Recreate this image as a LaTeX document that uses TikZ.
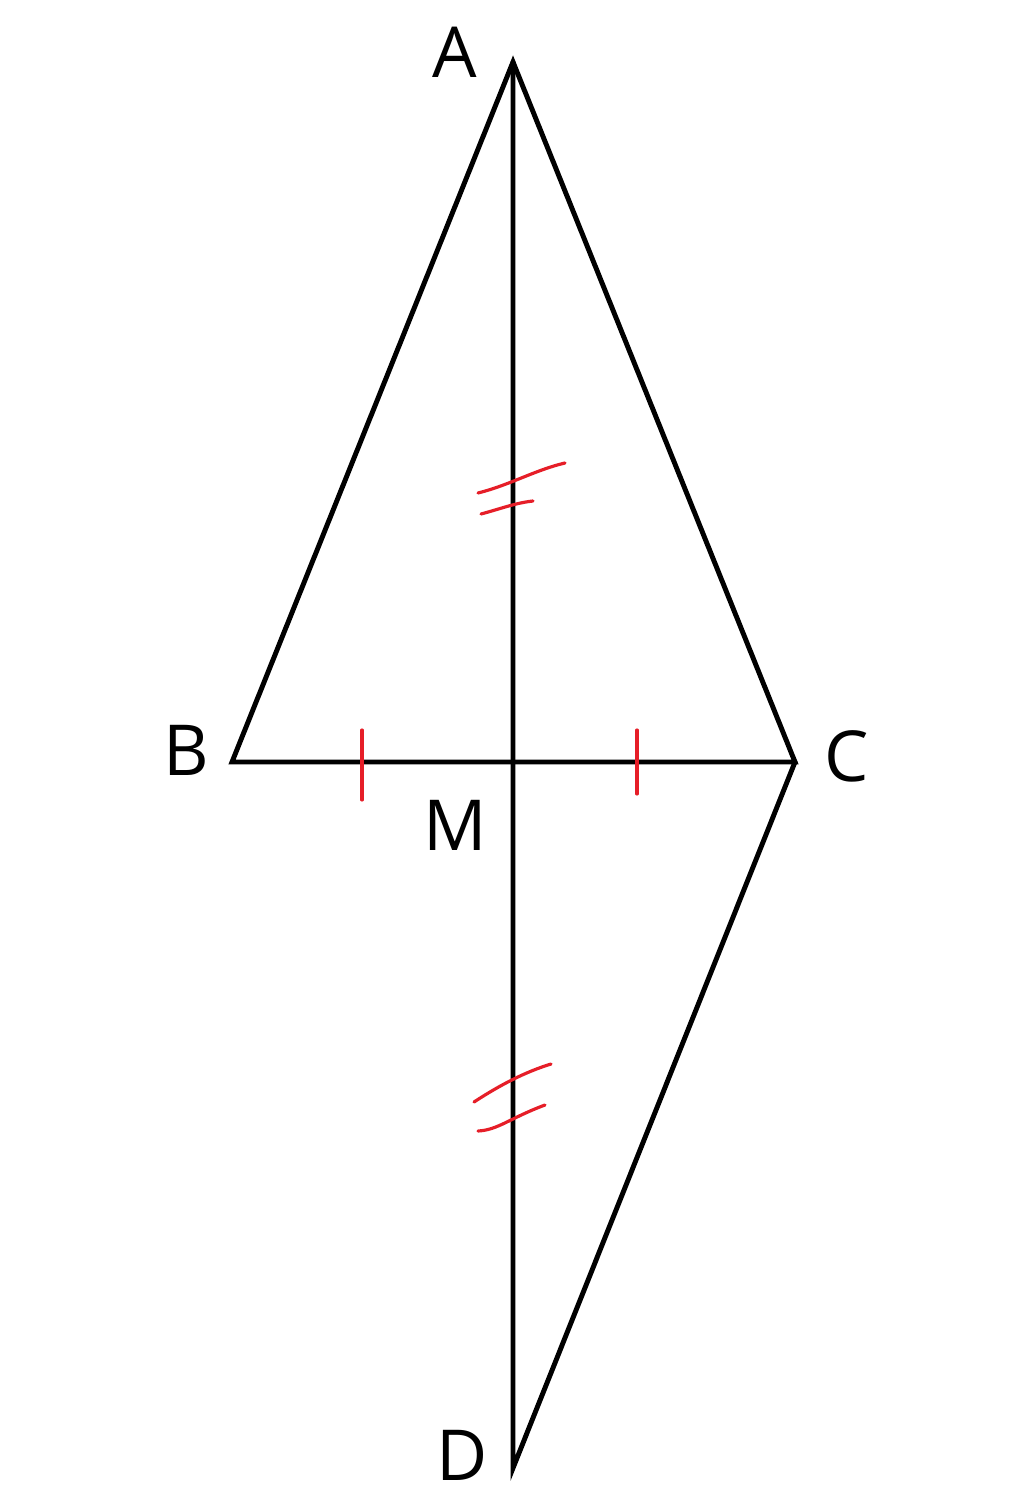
\documentclass[tikz,border=0pt]{standalone}
\usepackage{fontspec}
\setmainfont{Open Sans}
\begin{document}
\begin{tikzpicture}[x=0.01cm,y=-0.01cm,
  seg/.style={line width=1.4pt, line join=miter, line cap=round},
  tick/.style={draw={rgb,255:red,230;green,30;blue,40}, line width=0.9pt, line cap=round},
  lbl/.style={anchor=base, inner sep=0pt, font=\fontsize{20}{24}\selectfont}]
\useasboundingbox (0,0) rectangle (1024,1507);
\fill[white] (0,0) rectangle (1024,1507);
\coordinate (A) at (513,62);
\coordinate (B) at (232,762);
\coordinate (C) at (795,762);
\coordinate (M) at (513,762);
\coordinate (D) at (513,1468);
\draw[seg] (B) -- (A) -- (C) -- cycle;
\draw[seg] (A) -- (M) -- (D) -- (C);
% labels
\node[lbl] (la) at (455,78) {A};
\node[lbl] (lb) at (186,775) {B};
\node[lbl] (lc) at (847,781) {C};
\node[lbl] (lm) at (455,850) {M};
\node[lbl] (ld) at (462,1480) {D};
% tick marks
\coordinate (t1a) at (362,730); \coordinate (t1b) at (362,800);
\coordinate (t2a) at (637,730); \coordinate (t2b) at (637,794);
\draw[tick] (t1a) -- (t1b);
\draw[tick] (t2a) -- (t2b);
% double hash on AM
\coordinate (h1a) at (478,493); \coordinate (h1b) at (565,463);
\coordinate (h2a) at (481,514); \coordinate (h2b) at (533,501);
\draw[tick] (h1a) .. controls (510,485) and (535,470) .. (h1b);
\draw[tick] (h2a) .. controls (500,509) and (515,503) .. (h2b);
% double hash on MD
\coordinate (h3a) at (474,1102); \coordinate (h3b) at (551,1064);
\coordinate (h4a) at (478,1131); \coordinate (h4b) at (545,1105);
\draw[tick] (h3a) .. controls (500,1085) and (525,1072) .. (h3b);
\draw[tick] (h4a) .. controls (498,1130) and (510,1118) .. (h4b);
\end{tikzpicture}
\end{document}
